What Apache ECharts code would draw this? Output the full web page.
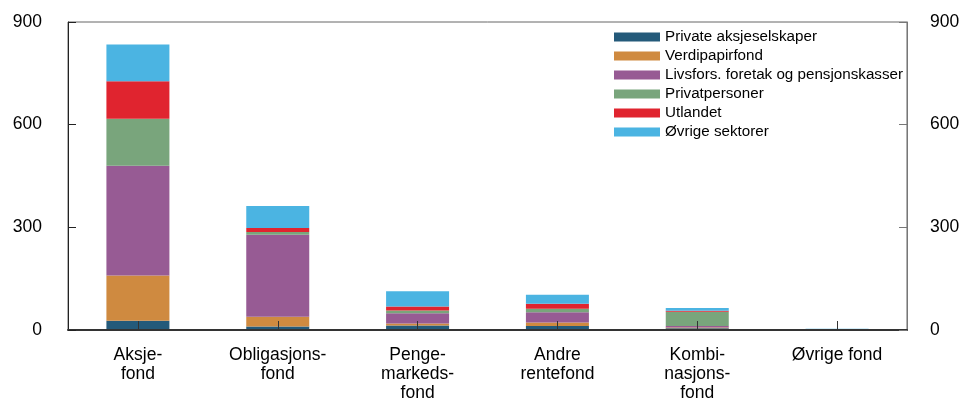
<!DOCTYPE html>
<html>
<head>
<meta charset="utf-8">
<script src="https://cdn.jsdelivr.net/npm/echarts@6/dist/echarts.min.js"></script>
<style>
  html, body { margin: 0; padding: 0; background: #fff; }
  #chart { width: 963px; height: 404px; }
</style>
</head>
<body>
<div id="chart"></div>
<script>
// Fund categories along the x axis
var categories = [
  'Aksje-\nfond',
  'Obligasjons-\nfond',
  'Penge-\nmarkeds-\nfond',
  'Andre\nrentefond',
  'Kombi-\nnasjons-\nfond',
  'Øvrige fond'
];

// Holdings by sector (stacked), one value per category
var privateAksjeselskaper = [27, 10, 13, 12, 5, 0.3];
var verdipapirfond        = [132, 29, 6, 10, 2, 0.2];
var livsforsPensjon       = [321, 239, 30, 30, 5, 2];
var privatpersoner        = [137, 8, 8, 10, 41, 0.3];
var utlandet              = [110, 12, 12, 15, 3, 0.2];
var ovrigeSektorer        = [107, 64, 44, 26, 8, 0.3];

var seriesNames = [
  'Private aksjeselskaper',
  'Verdipapirfond',
  'Livsfors. foretak og pensjonskasser',
  'Privatpersoner',
  'Utlandet',
  'Øvrige sektorer'
];
var seriesData = [privateAksjeselskaper, verdipapirfond, livsforsPensjon, privatpersoner, utlandet, ovrigeSektorer];
var colors = ['#245a7a', '#cf8a40', '#975b94', '#79a57c', '#e0242f', '#4bb4e2'];

// Y-axis tick values
var yTicks = [0, 300, 600, 900];

var fontFamily = '"Liberation Sans", Arial, Helvetica, sans-serif';

var chart = echarts.init(document.getElementById('chart'), null, { renderer: 'canvas' });

var yAxisBase = function (pos) {
  return {
    type: 'value',
    position: pos,
    min: yTicks[0],
    max: yTicks[yTicks.length - 1],
    interval: yTicks[1] - yTicks[0],
    splitLine: { show: false },
    axisLine: { show: true, lineStyle: { color: pos === 'left' ? '#222' : '#777', width: 1 } },
    axisTick: { show: true, inside: true, length: 8, lineStyle: { color: pos === 'left' ? '#222' : '#777' } },
    axisLabel: { color: '#000', fontSize: 17.5, fontFamily: fontFamily, margin: pos === 'left' ? 26 : 23 },
    z: 10
  };
};

chart.setOption({
  animation: false,
  color: colors,
  grid: {
    left: 68, right: 56, top: 22, bottom: 74,
    show: true, borderColor: '#666', borderWidth: 1, backgroundColor: 'transparent'
  },
  legend: {
    orient: 'vertical',
    left: 609,
    top: 24,
    icon: 'rect',
    itemWidth: 46,
    itemHeight: 9,
    itemGap: 3,
    textStyle: { fontSize: 15.2, fontFamily: fontFamily, color: '#000', lineHeight: 16 },
    data: seriesNames
  },
  xAxis: {
    type: 'category',
    data: categories,
    axisLine: { show: true, lineStyle: { color: '#333', width: 2 } },
    axisTick: { show: true, inside: true, alignWithLabel: true, length: 9, lineStyle: { color: '#333', width: 1 } },
    axisLabel: { color: '#000', fontSize: 17.5, fontFamily: fontFamily, lineHeight: 19, margin: 16, interval: 0 },
    z: 10
  },
  yAxis: [yAxisBase('left'), yAxisBase('right')],
  series: seriesNames.map(function (name, i) {
    return {
      name: name,
      type: 'bar',
      stack: 'total',
      barWidth: 63,
      data: seriesData[i],
      itemStyle: { color: colors[i] }
    };
  })
});
</script>
</body>
</html>
